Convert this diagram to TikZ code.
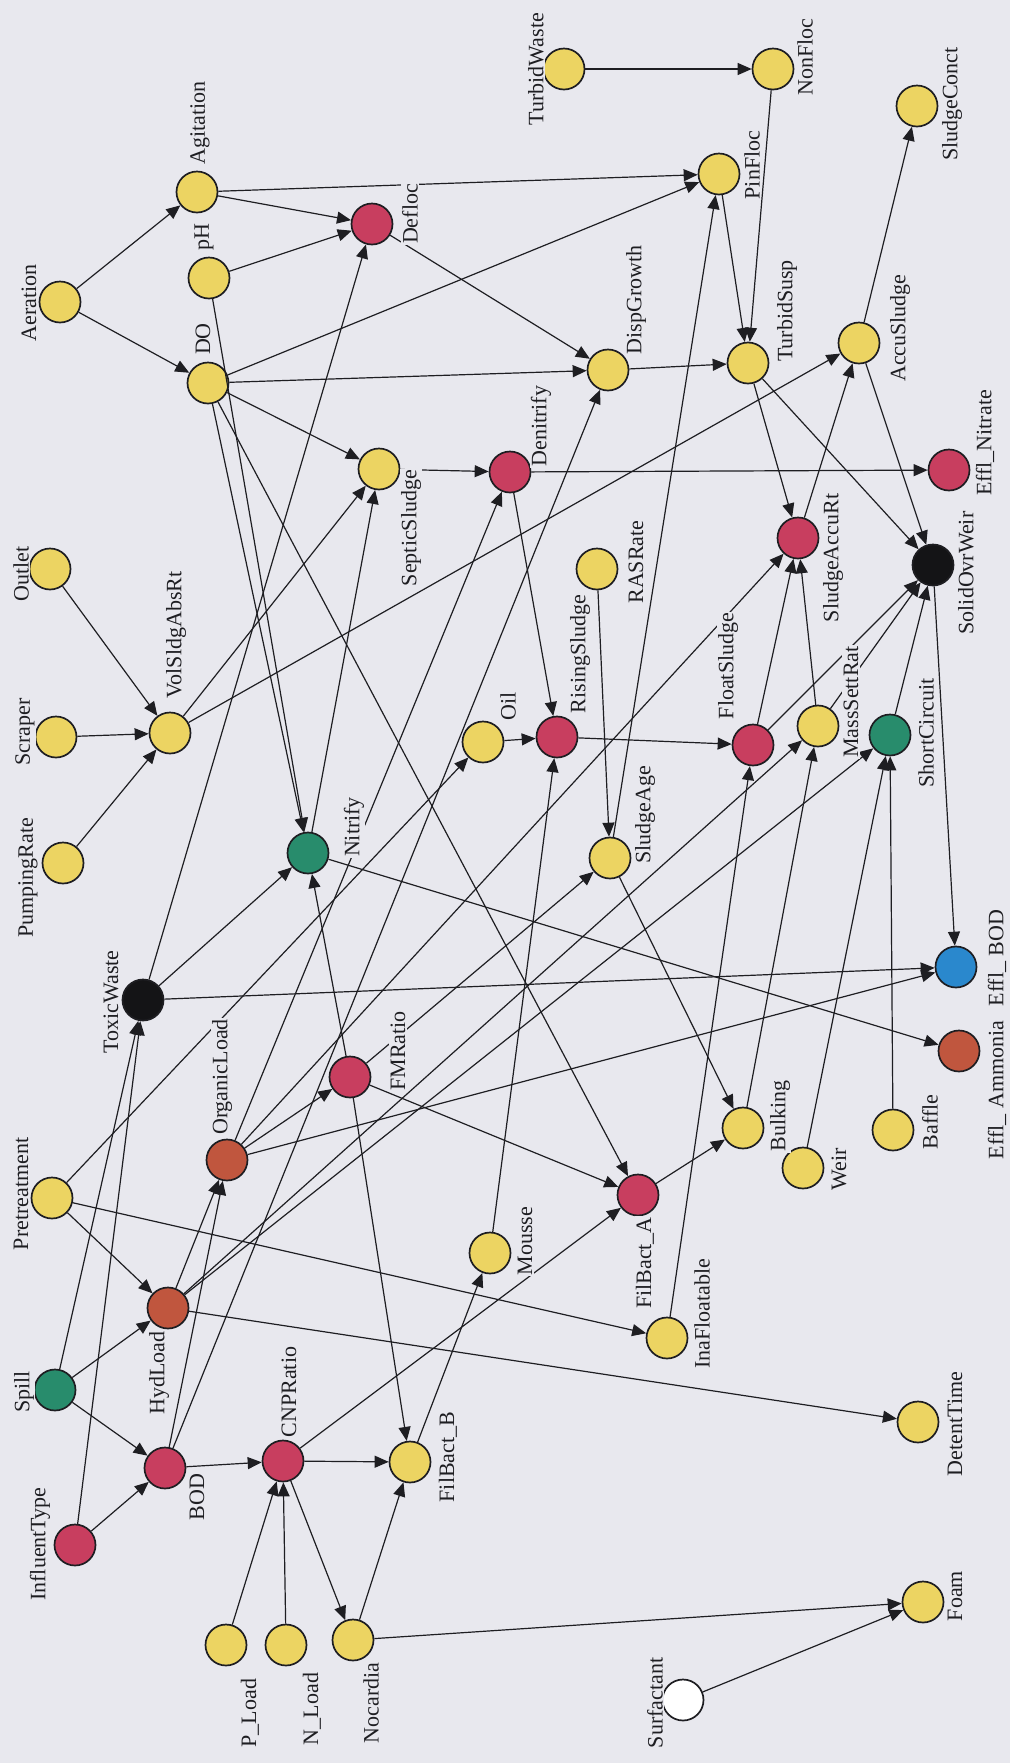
\documentclass[tikz,border=0pt]{standalone}
\usepackage{fontspec}
\setmainfont{Liberation Serif}
\usetikzlibrary{arrows.meta}
\definecolor{bg}{RGB}{232,232,238}
\definecolor{cyel}{RGB}{236,212,98}
\definecolor{ccrim}{RGB}{200,62,95}
\definecolor{cbrn}{RGB}{192,86,62}
\definecolor{cgrn}{RGB}{40,140,108}
\definecolor{cblu}{RGB}{42,136,205}
\definecolor{cblk}{RGB}{20,20,22}
\definecolor{ink}{RGB}{30,30,34}
\begin{document}
\begin{tikzpicture}[x=0.5pt,y=-0.5pt,
  bn/.style={circle, draw=ink, line width=0.85pt, minimum size=20.5pt, inner sep=0pt},
  yel/.style={bn, fill=cyel}, crim/.style={bn, fill=ccrim}, brn/.style={bn, fill=cbrn},
  grn/.style={bn, fill=cgrn}, blu/.style={bn, fill=cblu}, blk/.style={bn, fill=cblk},
  wht/.style={bn, fill=white},
  edge/.style={-{Triangle[length=7pt,width=6pt]}, line width=0.6pt, draw=ink},
  lbl/.style={rotate=90, fill=bg, inner sep=0.6pt, text=ink, font=\fontsize{11}{13}\selectfont}]
\fill[bg] (0,0) rectangle (1010,1763);
\useasboundingbox (0,0) rectangle (1010,1763);
% nodes
\node[yel] (Aeration) at (60,302) {};
\node[yel] (Agitation) at (197,192) {};
\node[yel] (pH) at (209,278) {};
\node[crim] (Defloc) at (372,224) {};
\node[yel] (DO) at (208,383) {};
\node[yel] (TurbidWaste) at (564,69) {};
\node[yel] (NonFloc) at (773,69) {};
\node[yel] (SludgeConct) at (917,106) {};
\node[yel] (PinFloc) at (719,174) {};
\node[yel] (DispGrowth) at (608,370) {};
\node[yel] (TurbidSusp) at (748,363) {};
\node[yel] (AccuSludge) at (859,343) {};
\node[yel] (SepticSludge) at (379,469) {};
\node[crim] (Denitrify) at (510,472) {};
\node[crim] (EfflNitrate) at (949,470) {};
\node[yel] (Outlet) at (50,569) {};
\node[crim] (SludgeAccuRt) at (798,538) {};
\node[blk] (SolidOvrWeir) at (933,565) {};
\node[yel] (RASRate) at (597,569) {};
\node[yel] (VolSldgAbsRt) at (170,733) {};
\node[yel] (Scraper) at (56,737) {};
\node[yel] (PumpingRate) at (63,863) {};
\node[grn] (Nitrify) at (308,853) {};
\node[yel] (Oil) at (483,742) {};
\node[crim] (RisingSludge) at (557,737) {};
\node[crim] (FloatSludge) at (753,745) {};
\node[yel] (MassSettRat) at (818,726) {};
\node[grn] (ShortCircuit) at (890,735) {};
\node[yel] (SludgeAge) at (610,858) {};
\node[blk] (ToxicWaste) at (143,1000) {};
\node[blu] (EfflBOD) at (956,967) {};
\node[brn] (EfflAmmonia) at (959,1051) {};
\node[crim] (FMRatio) at (350,1077) {};
\node[brn] (OrganicLoad) at (227,1160) {};
\node[yel] (Bulking) at (743,1128) {};
\node[yel] (Baffle) at (893,1130) {};
\node[yel] (Weir) at (803,1168) {};
\node[yel] (Pretreatment) at (52,1198) {};
\node[crim] (FilBactA) at (638,1195) {};
\node[yel] (Mousse) at (490,1253) {};
\node[brn] (HydLoad) at (168,1308) {};
\node[yel] (InaFloatable) at (667,1338) {};
\node[grn] (Spill) at (55,1390) {};
\node[yel] (DetentTime) at (918,1422) {};
\node[crim] (BOD) at (165,1468) {};
\node[crim] (CNPRatio) at (283,1461) {};
\node[yel] (FilBactB) at (410,1462) {};
\node[crim] (InfluentType) at (75,1545) {};
\node[yel] (PLoad) at (226,1645) {};
\node[yel] (NLoad) at (286,1645) {};
\node[yel] (Nocardia) at (353,1640) {};
\node[yel] (Foam) at (923,1602) {};
\node[wht] (Surfactant) at (683,1700) {};
% edges
\foreach \a/\b in {Aeration/Agitation, Aeration/DO, Agitation/Defloc, Agitation/PinFloc,
  pH/Defloc, pH/Nitrify, DO/PinFloc, DO/DispGrowth, DO/SepticSludge, DO/Nitrify, DO/FilBactA,
  Defloc/DispGrowth, ToxicWaste/Defloc, TurbidWaste/NonFloc, NonFloc/TurbidSusp,
  PinFloc/TurbidSusp, SludgeAge/PinFloc, DispGrowth/TurbidSusp, BOD/DispGrowth,
  TurbidSusp/SludgeAccuRt, TurbidSusp/SolidOvrWeir, AccuSludge/SludgeConct,
  AccuSludge/SolidOvrWeir, SludgeAccuRt/AccuSludge, VolSldgAbsRt/AccuSludge,
  Denitrify/EfflNitrate, SepticSludge/Denitrify, Denitrify/RisingSludge, OrganicLoad/Denitrify,
  VolSldgAbsRt/SepticSludge, Nitrify/SepticSludge, Outlet/VolSldgAbsRt, Scraper/VolSldgAbsRt,
  PumpingRate/VolSldgAbsRt, Oil/RisingSludge, RisingSludge/FloatSludge, RASRate/SludgeAge,
  OrganicLoad/SludgeAccuRt, FloatSludge/SludgeAccuRt, FloatSludge/SolidOvrWeir,
  MassSettRat/SludgeAccuRt, MassSettRat/SolidOvrWeir, ShortCircuit/SolidOvrWeir,
  SolidOvrWeir/EfflBOD, HydLoad/MassSettRat, HydLoad/ShortCircuit, FMRatio/SludgeAge,
  Bulking/MassSettRat, Weir/ShortCircuit, Baffle/ShortCircuit, ToxicWaste/Nitrify,
  ToxicWaste/EfflBOD, Spill/ToxicWaste, InfluentType/ToxicWaste, Pretreatment/Oil,
  OrganicLoad/FMRatio, FMRatio/Nitrify, FMRatio/FilBactA, FMRatio/FilBactB,
  OrganicLoad/EfflBOD, Nitrify/EfflAmmonia, SludgeAge/Bulking, FilBactA/Bulking,
  InaFloatable/FloatSludge, Mousse/RisingSludge, CNPRatio/FilBactA, Pretreatment/InaFloatable,
  HydLoad/DetentTime, Pretreatment/HydLoad, Spill/HydLoad, Spill/BOD, HydLoad/OrganicLoad,
  BOD/OrganicLoad, FilBactB/Mousse, InfluentType/BOD, BOD/CNPRatio, CNPRatio/FilBactB,
  CNPRatio/Nocardia, PLoad/CNPRatio, NLoad/CNPRatio, Nocardia/FilBactB, Nocardia/Foam,
  Surfactant/Foam}
  \draw[edge] (\a) -- (\b);
% labels
\node[lbl] (tAgitation) at (200,123) {Agitation};
\node[lbl] (tAeration) at (29,303) {Aeration};
\node[lbl] (tpH) at (204,237) {pH};
\node[lbl] (tDefloc) at (410,214) {Defloc};
\node[lbl] (tTurbidWaste) at (536,69) {TurbidWaste};
\node[lbl] (tNonFloc) at (805,57) {NonFloc};
\node[lbl] (tSludgeConct) at (952,104) {SludgeConct};
\node[lbl] (tPinFloc) at (752,165) {PinFloc};
\node[lbl] (tDispGrowth) at (636,300) {DispGrowth};
\node[lbl] (tTurbidSusp) at (787,311) {TurbidSusp};
\node[lbl] (tAccuSludge) at (900,328) {AccuSludge};
\node[lbl] (tDenitrify) at (541,426) {Denitrify};
\node[lbl] (tEfflNitrate) at (985,443) {Effl\_Nitrate};
\node[lbl] (tSludgeAccuRt) at (833,558) {SludgeAccuRt};
\node[lbl] (tSolidOvrWeir) at (966,573) {SolidOvrWeir};
\node[lbl] (tRASRate) at (636,562) {RASRate};
\node[lbl] (tSepticSludge) at (411,528) {SepticSludge};
\node[lbl] (tOutlet) at (21,574) {Outlet};
\node[lbl] (tDO) at (203,339) {DO};
\node[lbl] (tVolSldgAbsRt) at (176,635) {VolSldgAbsRt};
\node[lbl] (tScraper) at (25,732) {Scraper};
\node[lbl] (tPumpingRate) at (28,878) {PumpingRate};
\node[lbl] (tNitrify) at (354,827) {Nitrify};
\node[lbl] (tOil) at (508,706) {Oil};
\node[lbl] (tRisingSludge) at (580,654) {RisingSludge};
\node[lbl] (tFloatSludge) at (728,666) {FloatSludge};
\node[lbl] (tMassSettRat) at (851,702) {MassSettRat};
\node[lbl] (tShortCircuit) at (926,733) {ShortCircuit};
\node[lbl] (tSludgeAge) at (645,815) {SludgeAge};
\node[lbl] (tToxicWaste) at (111,1002) {ToxicWaste};
\node[lbl] (tOrganicLoad) at (222,1077) {OrganicLoad};
\node[lbl] (tFMRatio) at (398,1051) {FMRatio};
\node[lbl] (tPretreatment) at (21,1194) {Pretreatment};
\node[lbl] (tEfflBOD) at (997,958) {Effl\_ BOD};
\node[lbl] (tEfflAmmonia) at (997,1090) {Effl\_ Ammonia};
\node[lbl] (tBulking) at (780,1116) {Bulking};
\node[lbl] (tBaffle) at (930,1122) {Baffle};
\node[lbl] (tWeir) at (839,1169) {Weir};
\node[lbl] (tFilBactA) at (645,1263) {FilBact\_A};
\node[lbl] (tMousse) at (525,1241) {Mousse};
\node[lbl] (tInaFloatable) at (702,1314) {InaFloatable};
\node[lbl] (tDetentTime) at (955,1424) {DetentTime};
\node[lbl] (tHydLoad) at (159,1373) {HydLoad};
\node[lbl] (tSpill) at (24,1392) {Spill};
\node[lbl] (tCNPRatio) at (289,1392) {CNPRatio};
\node[lbl] (tFilBactB) at (448,1457) {FilBact\_B};
\node[lbl] (tBOD) at (197,1497) {BOD};
\node[lbl] (tInfluentType) at (40,1544) {InfluentType};
\node[lbl] (tPLoad) at (250,1713) {P\_Load};
\node[lbl] (tNLoad) at (312,1709) {N\_Load};
\node[lbl] (tNocardia) at (371,1703) {Nocardia};
\node[lbl] (tFoam) at (955,1596) {Foam};
\node[lbl] (tSurfactant) at (655,1703) {Surfactant};
\end{tikzpicture}
\end{document}
